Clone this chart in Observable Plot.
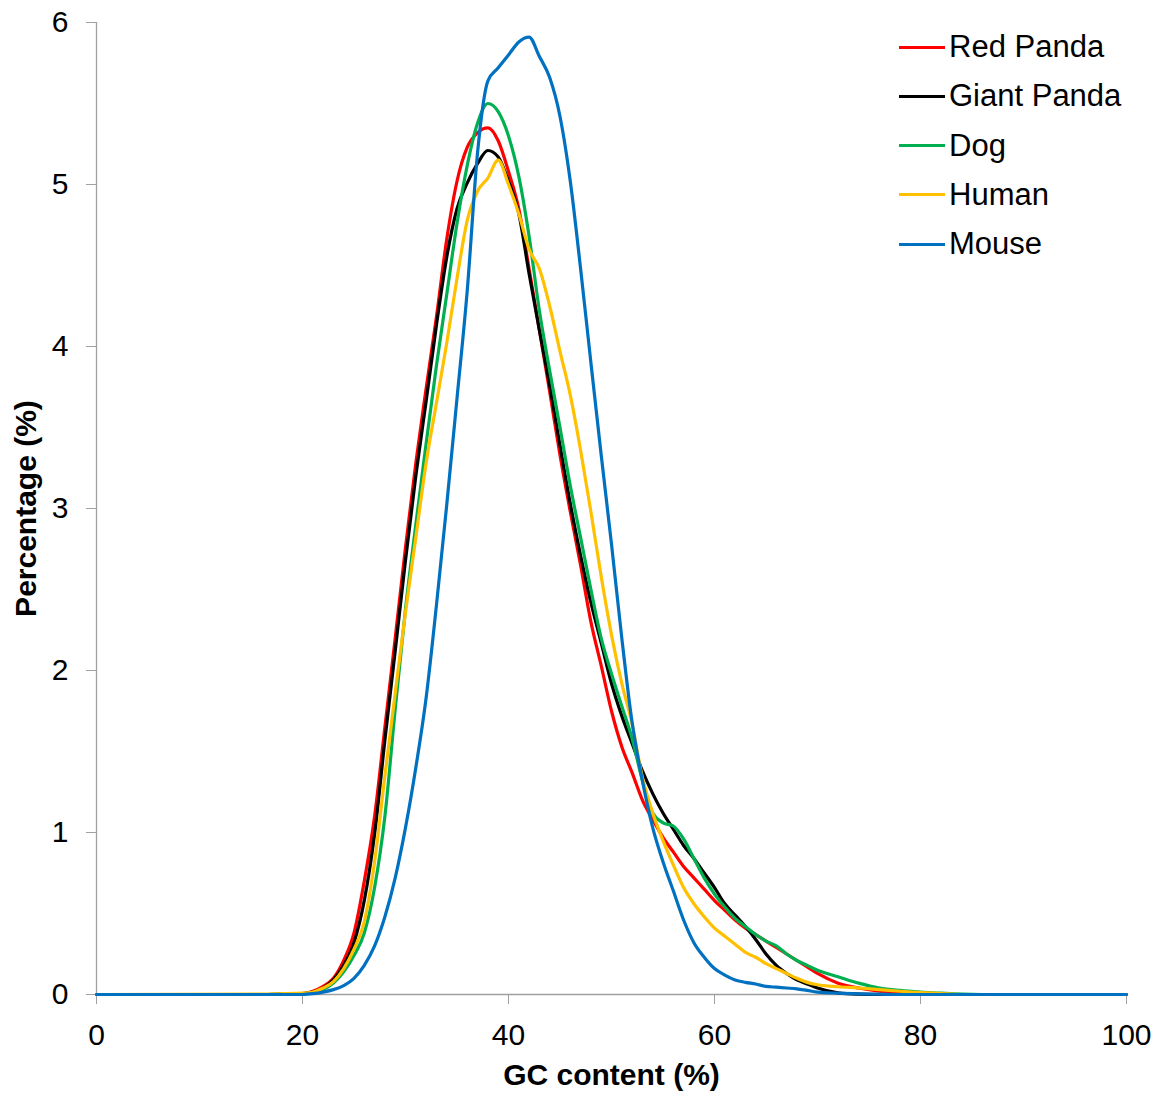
<!DOCTYPE html>
<html><head><meta charset="utf-8">
<script src="https://cdn.jsdelivr.net/npm/d3@7"></script>
<script src="https://cdn.jsdelivr.net/npm/@observablehq/plot@0.6"></script>
<style>
body{margin:0;background:#fff;font-family:"Liberation Sans",Arial,sans-serif;}
#wrap{position:relative;width:1159px;height:1099px;}
#legend{position:absolute;left:899px;top:47px;}
.row{position:absolute;left:0;height:40px;margin-top:-20px;display:flex;align-items:center;white-space:nowrap;font-size:31px;color:#000;}
.sw{width:46px;height:3px;margin-right:4px;}
</style>
</head><body>
<div id="wrap"><div id="legend"></div></div>
<script>
const species = ["Red Panda", "Giant Panda", "Dog", "Human", "Mouse"];
const colors = ["#FF0000", "#000000", "#00B050", "#FFC000", "#0070C0"];
const xTicks = [0, 20, 40, 60, 80, 100];
const yTicks = [0, 1, 2, 3, 4, 5, 6];
const xTitle = "GC content (%)";
const yTitle = "Percentage (%)";

const gc = [0,16,18,20, 21,22,23,24,25,26,27,28,29,30, 31,32,33,34,35,36,37,38,39,40,
  41,42,43,44,45,46,47,48,49,50, 51,52,53,54,55,56,57,58,59,60, 61,62,63,64,65,66,67,68,69,70,
  72,74,76,78,80,82,84,86, 100];

const redPanda = [0,0,0.002,0.005, 0.02,0.05,0.1,0.21,0.38,0.7,1.1,1.65,2.2,2.76,
  3.28,3.74,4.18,4.66,5.02,5.23,5.32,5.35,5.27,5.08, 4.85,4.48,4.1,3.72,3.33,2.98,2.65,2.3,2.03,1.75,
  1.53,1.37,1.2,1.08,0.97,0.88,0.79,0.72,0.65,0.58, 0.52,0.46,0.41,0.37,0.33,0.29,0.25,0.21,0.17,0.13,
  0.07,0.04,0.02,0.01,0.005,0,0,0, 0];

const giantPanda = [0,0,0.002,0.005, 0.015,0.04,0.09,0.18,0.32,0.58,0.99,1.57,2.12,2.68,
  3.2,3.66,4.13,4.55,4.85,5.01,5.13,5.21,5.17,5.02, 4.82,4.45,4.1,3.76,3.39,3.03,2.71,2.42,2.17,1.92,
  1.72,1.55,1.38,1.24,1.12,1.02,0.92,0.84,0.75,0.66, 0.56,0.49,0.42,0.34,0.25,0.18,0.13,0.09,0.065,0.04,
  0.01,0.002,0,0,0,0,0,0, 0];

const dog = [0,0,0.002,0.003, 0.01,0.03,0.07,0.14,0.24,0.38,0.66,1.1,1.76,2.38,
  2.9,3.4,3.88,4.32,4.76,5.12,5.38,5.5,5.45,5.3, 5.05,4.68,4.22,3.85,3.5,3.14,2.82,2.5,2.2,1.98,
  1.78,1.58,1.32,1.12,1.06,1.04,0.96,0.84,0.72,0.62, 0.54,0.47,0.42,0.37,0.33,0.3,0.25,0.21,0.18,0.15,
  0.11,0.07,0.04,0.025,0.015,0.008,0.002,0, 0];

const human = [0,0.003,0.005,0.008, 0.015,0.04,0.08,0.16,0.28,0.45,0.82,1.35,1.86,2.36,
  2.82,3.28,3.65,4.02,4.42,4.78,4.96,5.04,5.15,5.0, 4.82,4.6,4.48,4.25,3.97,3.7,3.36,2.98,2.58,2.22,
  1.92,1.67,1.34,1.12,0.95,0.8,0.66,0.56,0.48,0.41, 0.36,0.31,0.26,0.23,0.19,0.16,0.13,0.1,0.075,0.06,
  0.048,0.04,0.03,0.02,0.012,0.006,0,0, 0];

const mouse = [0,0,0,0, 0.005,0.015,0.03,0.055,0.1,0.18,0.3,0.48,0.72,1.03,
  1.4,1.83,2.4,3.02,3.68,4.35,5.2,5.64,5.72,5.8, 5.88,5.91,5.79,5.66,5.42,5.02,4.48,3.9,3.33,2.78,
  2.2,1.68,1.32,1.03,0.82,0.64,0.46,0.32,0.23,0.16, 0.12,0.09,0.075,0.065,0.05,0.045,0.04,0.035,0.025,0.015,
  0.008,0.004,0.002,0,0,0,0,0, 0];

const seriesValues = [redPanda, giantPanda, dog, human, mouse];
const rows = [];
species.forEach((name, s) => gc.forEach((x, i) => rows.push({gc: x, pct: seriesValues[s][i], species: name})));

const axisGray = "#a0a0a0";
const chart = Plot.plot({
  width: 1159, height: 1099,
  marginLeft: 96, marginRight: 33, marginTop: 22, marginBottom: 105,
  style: {fontFamily: "Liberation Sans, Arial, sans-serif", fontSize: "30px", color: "black", background: "white"},
  x: {domain: [0, 100], label: null},
  y: {domain: [0, 6], label: null},
  color: {domain: species, range: colors},
  marks: [
    Plot.ruleY([0], {stroke: axisGray, strokeWidth: 1.3}),
    Plot.ruleX([0], {stroke: axisGray, strokeWidth: 1.3}),
    Plot.axisX({ticks: xTicks, tickFormat: d => String(d), tickSize: 10, tickPadding: 19, stroke: axisGray, color: "black", fontSize: 30, label: null}),
    Plot.axisY({ticks: yTicks, tickFormat: d => String(d), tickSize: 10, tickPadding: 18, stroke: axisGray, color: "black", fontSize: 30, label: null}),
    Plot.line(rows, {x: "gc", y: "pct", z: "species", stroke: "species", strokeWidth: 3.2, curve: "monotone-x"}),
    Plot.text([xTitle], {frameAnchor: "bottom", dy: 90, fontWeight: "bold", fontSize: 30, fill: "black"}),
    Plot.text([yTitle], {frameAnchor: "left", textAnchor: "middle", rotate: -90, dx: -70, fontWeight: "bold", fontSize: 30, fill: "black"})
  ]
});
const wrap = document.getElementById("wrap");
wrap.insertBefore(chart, wrap.firstChild);

const legend = document.getElementById("legend");
species.forEach((name, i) => {
  const row = document.createElement("div");
  row.className = "row";
  row.style.top = (i * 49.25) + "px";
  const sw = document.createElement("span");
  sw.className = "sw";
  sw.style.background = colors[i];
  const label = document.createElement("span");
  label.textContent = name;
  row.appendChild(sw); row.appendChild(label);
  legend.appendChild(row);
});
</script>
</body></html>
